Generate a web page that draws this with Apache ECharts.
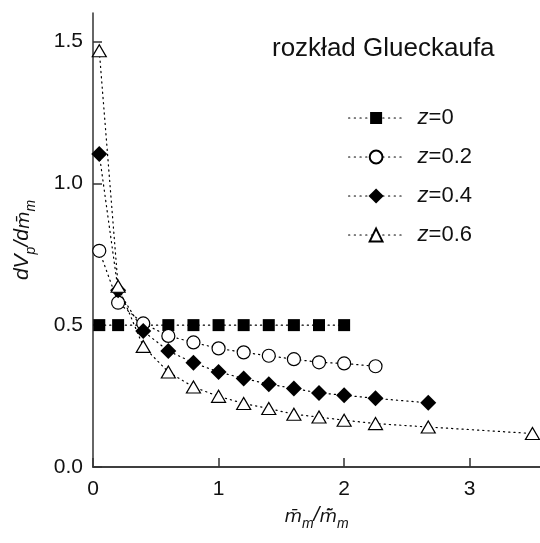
<!DOCTYPE html>
<html>
<head>
<meta charset="utf-8">
<script src="https://cdn.jsdelivr.net/npm/echarts@6/dist/echarts.min.js"></script>
<style>
  html, body { margin: 0; padding: 0; background: #fff; }
  #chart { width: 540px; height: 543px; }
</style>
</head>
<body>
<div id="chart"></div>
<script>
// Glueckauf distribution: dV_p/dm for several z values
const seriesNames = ['z=0', 'z=0.2', 'z=0.4', 'z=0.6'];

const xZ0 = [0.05, 0.2, 0.6, 0.8, 1.0, 1.2, 1.4, 1.6, 1.8, 2.0];
const yZ0 = [0.5, 0.5, 0.5, 0.5, 0.5, 0.5, 0.5, 0.5, 0.5, 0.5];

const xZ02 = [0.05, 0.2, 0.4, 0.6, 0.8, 1.0, 1.2, 1.4, 1.6, 1.8, 2.0, 2.25];
const yZ02 = [0.762, 0.579, 0.506, 0.462, 0.439, 0.418, 0.404, 0.392, 0.380, 0.369, 0.365, 0.355];

const xZ04 = [0.05, 0.2, 0.4, 0.6, 0.8, 1.0, 1.2, 1.4, 1.6, 1.8, 2.0, 2.25, 2.67];
const yZ04 = [1.103, 0.623, 0.479, 0.409, 0.367, 0.335, 0.312, 0.292, 0.277, 0.261, 0.253, 0.242, 0.226];

const xZ06 = [0.05, 0.2, 0.4, 0.6, 0.8, 1.0, 1.2, 1.4, 1.6, 1.8, 2.0, 2.25, 2.67, 3.5];
const yZ06 = [1.467, 0.637, 0.425, 0.335, 0.282, 0.249, 0.224, 0.206, 0.186, 0.176, 0.165, 0.153, 0.141, 0.118];

const xTicks = [0, 1, 2, 3];
const yTicks = [0.0, 0.5, 1.0, 1.5];

const FONT = '"Liberation Sans", Arial, sans-serif';
const ACCENT_FONT = '"DejaVu Sans", sans-serif';
const INK = '#111';
const AXIS = '#333';

const pairs = (xs, ys) => xs.map((x, i) => [x, ys[i]]);

const dotted = { color: '#000', width: 1.2, type: [1.2, 4], cap: 'round' };

const richLabel = {
  i:   { fontFamily: FONT, fontStyle: 'italic', fontSize: 21, color: INK, lineHeight: 26, verticalAlign: 'top' },
  a:   { fontFamily: ACCENT_FONT, fontStyle: 'italic', fontSize: 18, color: INK, lineHeight: 26, verticalAlign: 'top', padding: [3, 0, 0, 0] },
  sub: { fontFamily: FONT, fontStyle: 'italic', fontSize: 14, color: INK, lineHeight: 14, verticalAlign: 'bottom', padding: [12, 0, 0, 0] }
};

function mk(name, xs, ys, symbol, size, filled) {
  return {
    name: name,
    type: 'line',
    data: pairs(xs, ys),
    symbol: symbol,
    symbolSize: size,
    showAllSymbol: true,
    lineStyle: dotted,
    itemStyle: filled
      ? { color: '#000', borderColor: '#000', borderWidth: 0 }
      : { color: '#fff', borderColor: '#000', borderWidth: 1.2 },
    emphasis: { disabled: true },
    animation: false
  };
}

// one legend block per entry so each key symbol gets its own size
const legendIconHeights = [15, 16, 19, 16];
const legends = seriesNames.map((n, k) => ({
  orient: 'vertical',
  left: 348,
  top: 107 + k * 39,
  padding: 0,
  itemWidth: 55,
  itemHeight: legendIconHeights[k],
  data: [n],
  lineStyle: { type: [1.2, 4.5], width: 1.2, color: '#000' },
  formatter: s => s.replace('z', '{i|z}'),
  textStyle: {
    fontFamily: FONT, fontSize: 22, color: INK, lineHeight: 22,
    padding: [0, 0, 0, 9],
    rich: { i: { fontFamily: FONT, fontSize: 22, fontStyle: 'italic', color: INK } }
  }
}));

const chart = echarts.init(document.getElementById('chart'), null, { renderer: 'canvas' });

chart.setOption({
  backgroundColor: '#fff',
  animation: false,
  title: {
    text: 'rozkład Glueckaufa',
    left: 272,
    top: 36,
    padding: 0,
    textStyle: { fontFamily: FONT, fontSize: 26, fontWeight: 'normal', color: INK }
  },
  legend: legends,
  grid: { left: 93, right: 0, top: 13, bottom: 76, containLabel: false },
  xAxis: [{
    type: 'value',
    min: 0, max: 3.56, interval: 1,
    name: '{a|m\u0304}{sub|m}{i|/}{a|m\u0303\u0304}{sub|m}',
    nameLocation: 'middle',
    nameGap: 37,
    nameTextStyle: { rich: richLabel },
    axisLine: { show: true, onZero: false, lineStyle: { color: AXIS, width: 1.5 } },
    axisTick: { show: true, inside: true, length: 9, lineStyle: { color: AXIS, width: 1.5 } },
    axisLabel: {
      margin: 12, fontFamily: FONT, fontSize: 21, color: INK,
      showMaxLabel: false,
      formatter: v => (xTicks.includes(v) ? String(v) : '')
    },
    splitLine: { show: false }
  }, {
    type: 'value',
    position: 'top',
    min: 0, max: 3.56,
    axisLine: { show: true, lineStyle: { color: AXIS, width: 1.5 } },
    axisTick: { show: false },
    axisLabel: { show: false },
    splitLine: { show: false }
  }],
  yAxis: {
    type: 'value',
    min: 0, max: 1.6, interval: 0.5,
    name: '{i|dV}{sub|p}{i|/d}{a|m\u0304}{sub|m}',
    nameLocation: 'middle',
    nameRotate: 90,
    nameGap: 55,
    nameTextStyle: { rich: richLabel },
    axisLine: { show: true, onZero: false, lineStyle: { color: AXIS, width: 1.5 } },
    axisTick: { show: true, inside: true, length: 9, lineStyle: { color: AXIS, width: 1.5 } },
    axisLabel: {
      margin: 10, fontFamily: FONT, fontSize: 21, color: INK,
      showMaxLabel: false,
      formatter: v => (yTicks.includes(v) ? v.toFixed(1) : '')
    },
    splitLine: { show: false }
  },
  series: [
    mk(seriesNames[0], xZ0, yZ0, 'rect', 12, true),
    mk(seriesNames[1], xZ02, yZ02, 'circle', 13, false),
    mk(seriesNames[2], xZ04, yZ04, 'diamond', 16, true),
    mk(seriesNames[3], xZ06, yZ06, 'triangle', [14, 12], false)
  ]
});
</script>
</body>
</html>
